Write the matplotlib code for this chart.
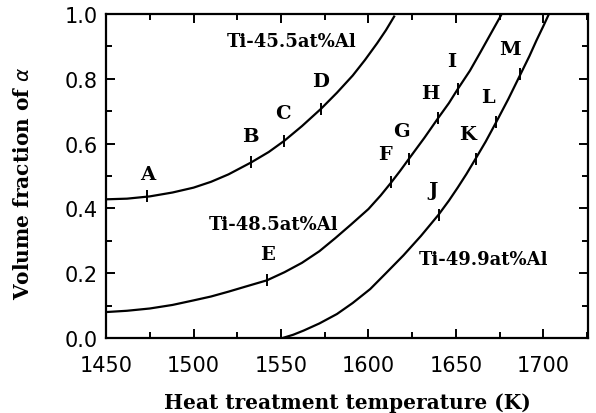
import matplotlib
matplotlib.use("Agg")
import matplotlib.pyplot as plt
from matplotlib.ticker import MultipleLocator

# ---- data ----
t_455 = [1450, 1462, 1475, 1488, 1500, 1510, 1520, 1533, 1543, 1552, 1562, 1573, 1582, 1591, 1598, 1605, 1610, 1615]
v_455 = [0.428, 0.430, 0.437, 0.449, 0.464, 0.482, 0.505, 0.542, 0.574, 0.609, 0.654, 0.708, 0.757, 0.810, 0.858, 0.910, 0.950, 0.995]

t_485 = [1450, 1462, 1475, 1488, 1500, 1510, 1520, 1530, 1542, 1552, 1562, 1572, 1581, 1590, 1600, 1607, 1613, 1618, 1623, 1632, 1640, 1646, 1651, 1658, 1664, 1670, 1676]
v_485 = [0.080, 0.084, 0.091, 0.102, 0.116, 0.128, 0.143, 0.159, 0.178, 0.203, 0.232, 0.268, 0.308, 0.350, 0.398, 0.440, 0.480, 0.515, 0.552, 0.618, 0.680, 0.725, 0.768, 0.825, 0.882, 0.940, 0.998]

t_499 = [1551, 1557, 1563, 1572, 1582, 1591, 1601, 1610, 1620, 1630, 1640, 1646, 1651, 1656, 1661, 1667, 1673, 1680, 1687, 1692, 1696, 1700, 1703]
v_499 = [0.000, 0.010, 0.023, 0.045, 0.074, 0.108, 0.151, 0.200, 0.255, 0.315, 0.380, 0.424, 0.464, 0.506, 0.551, 0.606, 0.666, 0.738, 0.815, 0.870, 0.918, 0.963, 0.998]

curve_labels = ["Ti-45.5at%Al", "Ti-48.5at%Al", "Ti-49.9at%Al"]
curve_label_t = [1556, 1546, 1666]
curve_label_v = [0.918, 0.352, 0.244]

pt_names = ["A", "B", "C", "D", "E", "F", "G", "H", "I", "J", "K", "L", "M"]
pt_t = [1473.3, 1532.7, 1552, 1573, 1542, 1613, 1623, 1640, 1651, 1640.3, 1661.3, 1672.8, 1686.7]
pt_v = [0.437, 0.542, 0.609, 0.708, 0.178, 0.480, 0.552, 0.680, 0.768, 0.380, 0.552, 0.666, 0.815]

x_ticks = [1450, 1500, 1550, 1600, 1650, 1700]
y_ticks = [0.0, 0.2, 0.4, 0.6, 0.8, 1.0]

# ---- layout / style ----
label_off_px = [(1, 13), (0, 17), (-2, 19), (-1, 19), (1, 17), (-6, 19), (-7, 19),
                (-8, 16), (-6, 19), (-6, 16), (-8, 16), (-8, 16), (-10, 16)]

fig = plt.figure(figsize=(5.96, 4.14), dpi=100)
ax = fig.add_axes([0.1779, 0.1812, 0.8087, 0.7826])

lw = 1.6
for t, v in [(t_455, v_455), (t_485, v_485), (t_499, v_499)]:
    ax.plot(t, v, color="black", lw=lw, solid_capstyle="butt", solid_joinstyle="round")

ax.plot(pt_t, pt_v, ls="none", marker="|", ms=9, mew=1.4, color="black")

for name, t, v, off in zip(pt_names, pt_t, pt_v, label_off_px):
    ax.annotate(name, (t, v), xytext=off, textcoords="offset pixels",
                ha="center", va="bottom", family="DejaVu Serif",
                fontweight="bold", fontsize=14)

for txt, t, v in zip(curve_labels, curve_label_t, curve_label_v):
    ax.text(t, v, txt, ha="center", va="center", family="DejaVu Serif",
            fontweight="bold", fontsize=13)

ax.set_xlim(1450, 1725.5)
ax.set_ylim(0, 1.0)
ax.set_xticks(x_ticks)
ax.set_xticklabels([str(x) for x in x_ticks])
ax.set_yticks(y_ticks)
ax.set_yticklabels([f"{y:.1f}" for y in y_ticks])
ax.xaxis.set_minor_locator(MultipleLocator(25))
ax.yaxis.set_minor_locator(MultipleLocator(0.1))

ax.tick_params(which="both", direction="in", top=True, right=True, width=1.4,
               labelsize=15, colors="black")
ax.tick_params(which="major", length=6.5)
ax.tick_params(which="minor", length=4)
ax.tick_params(axis="x", which="major", pad=12)
ax.tick_params(axis="y", which="major", pad=6)
for lab in ax.get_xticklabels() + ax.get_yticklabels():
    lab.set_family("DejaVu Sans")

for s in ax.spines.values():
    s.set_linewidth(1.6)

ax.set_xlabel("Heat treatment temperature (K)", family="DejaVu Serif",
              fontweight="bold", fontsize=14.5)
ax.set_ylabel(r"Volume fraction of $\alpha$", family="DejaVu Serif",
              fontweight="bold", fontsize=14.5)
ax.xaxis.set_label_coords(0.5, -0.168)
ax.yaxis.set_label_coords(-0.151, 0.48)

fig.savefig("out.png", dpi=100)
